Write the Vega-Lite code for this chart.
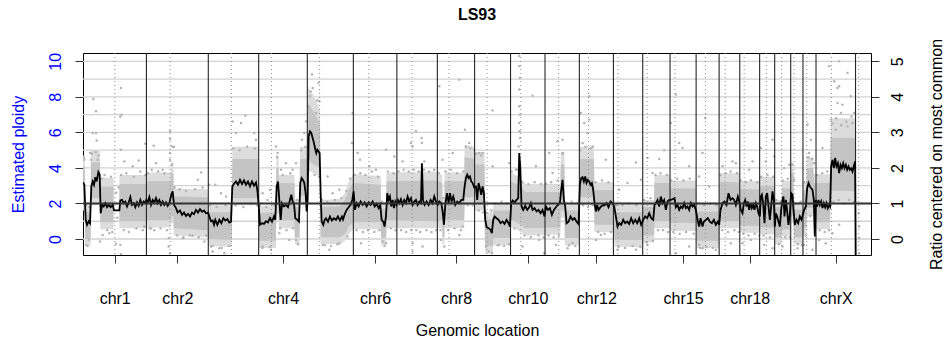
{
"$schema": "https://vega.github.io/schema/vega-lite/v6.json",
"width": 788,
"height": 202,
"autosize": "none",
"padding": {"left": 83, "top": 53, "right": 75, "bottom": 85},
"title": {"text": "LS93", "fontSize": 16, "fontWeight": "bold", "font": "Liberation Sans", "anchor": "middle", "offset": 15, "color": "#000"},
"config": {"font": "Liberation Sans", "view": {"stroke": "#000", "strokeWidth": 1}, "axis": {"labelFont": "Liberation Sans", "titleFont": "Liberation Sans"}},
"layer": [
{"layer": [
{"data": {"values": [{"p":0},{"p":1},{"p":2},{"p":3},{"p":4},{"p":5},{"p":6},{"p":7},{"p":8},{"p":9},{"p":10}]},
"mark": {"type": "rule", "color": "#d2d2d2", "strokeWidth": 1.3},
"encoding": {"y": {"field": "p", "type": "quantitative", "scale": {"domain": [-0.9, 10.47], "nice": false, "zero": false},
"axis": {"values": [0,1,2,3,4,5,6,7,8,9,10], "labelExpr": "datum.value % 2 === 0 ? datum.label : ''", "title": "Estimated ploidy", "grid": false, "domain": false, "tickSize": 8, "tickColor": "#333", "labelAngle": -90, "labelAlign": "center", "labelBaseline": "bottom", "labelPadding": 12, "labelFontSize": 16, "labelColor": "#0000ff", "labelOverlap": false, "labelFlush": false, "titleFontSize": 16, "titleFontWeight": "normal", "titleColor": "#0000ff", "titleAngle": -90, "titleX": -65, "titleY": 101, "titleAlign": "center", "titleBaseline": "middle"}}}},
{"data": {"name": "band", "values": [
{"s":1,"g":0,"lo":2.0,"hi":4.1,"lo2":1.6,"hi2":4.7},{"s":1,"g":7,"lo":2.0,"hi":4.1,"lo2":1.6,"hi2":4.7},{"s":1,"g":8,"lo":0.0,"hi":1.5,"lo2":-0.4,"hi2":1.9},{"s":1,"g":30,"lo":0.0,"hi":1.5,"lo2":-0.4,"hi2":1.9},{"s":1,"g":31,"lo":2.3,"hi":4.3,"lo2":1.9,"hi2":5.0},{"s":1,"g":67,"lo":2.3,"hi":4.3,"lo2":1.9,"hi2":5.0},{"s":1,"g":68,"lo":0.95,"hi":2.95,"lo2":0.55,"hi2":3.45},{"s":1,"g":120,"lo":0.95,"hi":2.95,"lo2":0.55,"hi2":3.45},
{"s":2,"g":143,"lo":1.0,"hi":3.1,"lo2":0.6,"hi2":3.6},{"s":2,"g":249,"lo":1.0,"hi":3.1,"lo2":0.6,"hi2":3.6},{"s":2,"g":250,"lo":1.05,"hi":3.25,"lo2":0.65,"hi2":3.75},{"s":2,"g":345,"lo":1.05,"hi":3.25,"lo2":0.65,"hi2":3.75},{"s":2,"g":346,"lo":1.3,"hi":3.7,"lo2":0.9,"hi2":4.3},{"s":2,"g":355,"lo":1.3,"hi":3.7,"lo2":0.9,"hi2":4.3},{"s":2,"g":357,"lo":0.6,"hi":2.4,"lo2":0.2,"hi2":2.85},{"s":2,"g":490,"lo":0.5,"hi":2.35,"lo2":0.1,"hi2":2.8},{"s":2,"g":493,"lo":0.0,"hi":1.5,"lo2":-0.4,"hi2":1.9},{"s":2,"g":585,"lo":-0.05,"hi":1.5,"lo2":-0.45,"hi2":1.9},{"s":2,"g":587,"lo":2.3,"hi":4.5,"lo2":1.9,"hi2":5.2},{"s":2,"g":688,"lo":2.3,"hi":4.5,"lo2":1.9,"hi2":5.2},{"s":2,"g":691,"lo":-0.1,"hi":1.45,"lo2":-0.5,"hi2":1.85},{"s":2,"g":758,"lo":-0.1,"hi":1.5,"lo2":-0.5,"hi2":1.9},{"s":2,"g":760,"lo":1.9,"hi":4.0,"lo2":1.4,"hi2":4.7},{"s":2,"g":768,"lo":1.9,"hi":4.0,"lo2":1.4,"hi2":4.7},{"s":2,"g":770,"lo":1.05,"hi":3.15,"lo2":0.6,"hi2":3.6},{"s":2,"g":831,"lo":1.05,"hi":3.15,"lo2":0.6,"hi2":3.6},{"s":2,"g":833,"lo":0.1,"hi":1.8,"lo2":-0.3,"hi2":2.2},{"s":2,"g":851,"lo":0.1,"hi":1.8,"lo2":-0.3,"hi2":2.2},{"s":2,"g":853,"lo":2.45,"hi":4.5,"lo2":2.0,"hi2":5.2},{"s":2,"g":881,"lo":2.45,"hi":4.5,"lo2":2.0,"hi2":5.2},{"s":2,"g":883,"lo":4.5,"hi":7.6,"lo2":3.9,"hi2":8.6},{"s":2,"g":905,"lo":4.2,"hi":7.2,"lo2":3.7,"hi2":8.1},{"s":2,"g":931,"lo":4.0,"hi":6.5,"lo2":3.5,"hi2":7.3},{"s":2,"g":934,"lo":0.1,"hi":1.8,"lo2":-0.3,"hi2":2.2},{"s":2,"g":1010,"lo":0.1,"hi":1.85,"lo2":-0.3,"hi2":2.25},{"s":2,"g":1030,"lo":0.3,"hi":2.2,"lo2":-0.1,"hi2":2.6},{"s":2,"g":1045,"lo":0.7,"hi":2.8,"lo2":0.3,"hi2":3.25},{"s":2,"g":1062,"lo":0.95,"hi":3.15,"lo2":0.55,"hi2":3.65},{"s":2,"g":1170,"lo":0.95,"hi":3.05,"lo2":0.55,"hi2":3.55},{"s":2,"g":1172,"lo":0.05,"hi":1.7,"lo2":-0.35,"hi2":2.1},{"s":2,"g":1191,"lo":0.05,"hi":1.7,"lo2":-0.35,"hi2":2.1},{"s":2,"g":1193,"lo":1.05,"hi":3.25,"lo2":0.6,"hi2":3.75},{"s":2,"g":1392,"lo":1.0,"hi":3.3,"lo2":0.6,"hi2":3.8},{"s":2,"g":1412,"lo":1.05,"hi":3.15,"lo2":0.6,"hi2":3.6},{"s":2,"g":1413,"lo":0.1,"hi":1.8,"lo2":-0.3,"hi2":2.2},{"s":2,"g":1420,"lo":0.1,"hi":1.8,"lo2":-0.3,"hi2":2.2},{"s":2,"g":1421,"lo":1.05,"hi":3.25,"lo2":0.6,"hi2":3.75},{"s":2,"g":1498,"lo":1.05,"hi":3.25,"lo2":0.6,"hi2":3.75},{"s":2,"g":1500,"lo":2.35,"hi":4.6,"lo2":1.9,"hi2":5.3},{"s":2,"g":1538,"lo":2.35,"hi":4.5,"lo2":1.9,"hi2":5.2},{"s":2,"g":1540,"lo":2.0,"hi":4.2,"lo2":1.6,"hi2":4.9},{"s":2,"g":1578,"lo":2.0,"hi":4.2,"lo2":1.6,"hi2":4.9},{"s":2,"g":1580,"lo":-0.4,"hi":1.1,"lo2":-0.8,"hi2":1.5},{"s":2,"g":1611,"lo":-0.4,"hi":1.1,"lo2":-0.8,"hi2":1.5},{"s":2,"g":1613,"lo":0.05,"hi":1.6,"lo2":-0.35,"hi2":2.0},{"s":2,"g":1679,"lo":0.05,"hi":1.6,"lo2":-0.35,"hi2":2.0},{"s":2,"g":1681,"lo":1.1,"hi":3.25,"lo2":0.7,"hi2":3.75},{"s":2,"g":1720,"lo":0.8,"hi":2.95,"lo2":0.4,"hi2":3.45},{"s":2,"g":1740,"lo":0.6,"hi":2.65,"lo2":0.2,"hi2":3.1},{"s":2,"g":1876,"lo":0.65,"hi":2.65,"lo2":0.25,"hi2":3.1},{"s":2,"g":1878,"lo":1.6,"hi":4.2,"lo2":1.2,"hi2":4.9},{"s":2,"g":1892,"lo":1.6,"hi":4.2,"lo2":1.2,"hi2":4.9},{"s":2,"g":1894,"lo":0.05,"hi":1.6,"lo2":-0.35,"hi2":2.0},{"s":2,"g":1950,"lo":0.05,"hi":1.6,"lo2":-0.35,"hi2":2.0},{"s":2,"g":1952,"lo":2.35,"hi":4.5,"lo2":1.9,"hi2":5.2},{"s":2,"g":2008,"lo":2.35,"hi":4.5,"lo2":1.9,"hi2":5.2},{"s":2,"g":2010,"lo":0.8,"hi":2.75,"lo2":0.4,"hi2":3.2},{"s":2,"g":2085,"lo":0.8,"hi":2.75,"lo2":0.4,"hi2":3.2},{"s":2,"g":2090,"lo":-0.05,"hi":1.5,"lo2":-0.45,"hi2":1.9},{"s":2,"g":2199,"lo":-0.05,"hi":1.5,"lo2":-0.45,"hi2":1.9},{"s":2,"g":2201,"lo":0.2,"hi":1.8,"lo2":-0.2,"hi2":2.2},{"s":2,"g":2244,"lo":0.2,"hi":1.8,"lo2":-0.2,"hi2":2.2},{"s":2,"g":2246,"lo":1.0,"hi":3.15,"lo2":0.6,"hi2":3.6},{"s":2,"g":2307,"lo":1.0,"hi":3.15,"lo2":0.6,"hi2":3.6},{"s":2,"g":2309,"lo":0.9,"hi":2.85,"lo2":0.45,"hi2":3.3},{"s":2,"g":2410,"lo":0.9,"hi":2.85,"lo2":0.45,"hi2":3.3},{"s":2,"g":2412,"lo":-0.1,"hi":1.55,"lo2":-0.5,"hi2":1.95},{"s":2,"g":2499,"lo":-0.1,"hi":1.55,"lo2":-0.5,"hi2":1.95},{"s":2,"g":2502,"lo":1.0,"hi":3.2,"lo2":0.6,"hi2":3.7},{"s":2,"g":2580,"lo":1.0,"hi":3.2,"lo2":0.6,"hi2":3.7},{"s":2,"g":2582,"lo":0.75,"hi":2.8,"lo2":0.35,"hi2":3.25},{"s":2,"g":2659,"lo":0.75,"hi":2.8,"lo2":0.35,"hi2":3.25},{"s":2,"g":2661,"lo":0.65,"hi":3.0,"lo2":0.25,"hi2":3.5},{"s":2,"g":2718,"lo":0.65,"hi":3.0,"lo2":0.25,"hi2":3.5},{"s":2,"g":2720,"lo":0.1,"hi":1.8,"lo2":-0.3,"hi2":2.2},{"s":2,"g":2745,"lo":0.1,"hi":1.8,"lo2":-0.3,"hi2":2.2},{"s":2,"g":2747,"lo":0.55,"hi":2.85,"lo2":0.15,"hi2":3.3},{"s":2,"g":2782,"lo":0.55,"hi":2.85,"lo2":0.15,"hi2":3.3},{"s":2,"g":2784,"lo":1.3,"hi":3.7,"lo2":0.9,"hi2":4.3},{"s":2,"g":2792,"lo":1.3,"hi":3.7,"lo2":0.9,"hi2":4.3},{"s":2,"g":2794,"lo":0.1,"hi":1.65,"lo2":-0.3,"hi2":2.05},{"s":2,"g":2830,"lo":0.1,"hi":1.65,"lo2":-0.3,"hi2":2.05},{"s":2,"g":2832,"lo":0.65,"hi":2.75,"lo2":0.25,"hi2":3.2},{"s":2,"g":2843,"lo":0.65,"hi":2.75,"lo2":0.25,"hi2":3.2},{"s":2,"g":2845,"lo":1.75,"hi":4.0,"lo2":1.3,"hi2":4.6},{"s":2,"g":2870,"lo":1.75,"hi":4.0,"lo2":1.3,"hi2":4.6},{"s":2,"g":2872,"lo":0.95,"hi":3.15,"lo2":0.55,"hi2":3.65},{"s":2,"g":2936,"lo":0.95,"hi":3.15,"lo2":0.55,"hi2":3.65},{"s":2,"g":2938,"lo":2.7,"hi":5.7,"lo2":2.1,"hi2":6.8},{"s":2,"g":3036,"lo":2.7,"hi":5.7,"lo2":2.1,"hi2":6.8}
]},
"mark": {"type": "area", "color": "#dcdcdc", "clip": true},
"encoding": {
"x": {"field": "g", "type": "quantitative", "scale": {"domain": [0, 3097], "nice": false, "zero": false},
"axis": {"values": [124.6, 370.85, 786, 1148.05, 1465.9, 1748.05, 2017.7, 2358.4, 2620.3, 2958.5], "labelExpr": "['chr1','chr2','chr4','chr6','chr8','chr10','chr12','chr15','chr18','chrX'][indexof([124.6,370.85,786,1148.05,1465.9,1748.05,2017.7,2358.4,2620.3,2958.5], datum.value)]", "title": "Genomic location", "grid": false, "domain": false, "tickSize": 8, "tickColor": "#333", "labelPadding": 27, "labelFontSize": 16, "labelColor": "#000", "labelFlush": false, "labelOverlap": false, "titleFontSize": 16, "titleFontWeight": "normal", "titleColor": "#000", "titleX": 394, "titleY": 75, "titleBaseline": "middle", "titleAlign": "center"}},
"y": {"field": "lo2", "type": "quantitative"},
"y2": {"field": "hi2"},
"detail": {"field": "s"}
}},
{"data": {"name": "band"},
"mark": {"type": "area", "color": "#c4c4c4", "clip": true},
"encoding": {
"x": {"field": "g", "type": "quantitative"},
"y": {"field": "lo", "type": "quantitative"},
"y2": {"field": "hi"},
"detail": {"field": "s"}
}},
{"data": {"values": [
{"g":149.4,"p":8.5},{"g":40.7,"p":7.88},{"g":51.2,"p":7.19},{"g":146.8,"p":6.9},{"g":152,"p":7.0},{"g":38.1,"p":5.97},{"g":51.2,"p":5.97},{"g":53.8,"p":5.55},{"g":245,"p":5.36},{"g":277.8,"p":5.25},{"g":349.8,"p":5.21},{"g":357.7,"p":5.18},{"g":342,"p":6.06},{"g":342,"p":5.63},{"g":342,"p":4.84},{"g":342,"p":4.46},{"g":149.4,"p":5.03},{"g":27.6,"p":4.84},{"g":31.5,"p":4.46},{"g":57.7,"p":4.46},{"g":5.3,"p":4.46},{"g":218.9,"p":4.42},{"g":287,"p":4.27},{"g":313,"p":3.9},{"g":464,"p":3.75},{"g":451,"p":3.33},{"g":496.5,"p":3.05},{"g":162.5,"p":4.37},{"g":195.3,"p":4.09},{"g":336.7,"p":0.05},{"g":336.7,"p":-0.42},{"g":342,"p":-0.8},{"g":146.8,"p":-0.33},{"g":149.4,"p":-0.85},{"g":11.9,"p":-0.33},{"g":22.4,"p":-0.05},{"g":66.9,"p":-0.14},{"g":77.4,"p":0.23},{"g":103.6,"p":0.33},{"g":129.8,"p":-0.27},{"g":241.1,"p":0.7},{"g":267.3,"p":0.61},{"g":391.7,"p":0.05},{"g":431,"p":0.18},{"g":477,"p":-0.14},{"g":503,"p":-0.42},{"g":509.6,"p":-0.7},
{"g":900,"p":9.26},{"g":926,"p":8.79},{"g":902.6,"p":8.5},{"g":892,"p":8.03},{"g":929,"p":7.75},{"g":886.9,"p":7.47},{"g":915.7,"p":7.09},{"g":876.4,"p":6.62},{"g":869.8,"p":5.97},{"g":860.6,"p":5.59},{"g":758.5,"p":5.21},{"g":765,"p":4.84},{"g":778,"p":3.9},{"g":797.8,"p":4.27},{"g":824,"p":3.9},{"g":837,"p":4.27},{"g":588.2,"p":6.62},{"g":621,"p":6.53},{"g":638,"p":6.94},{"g":601.3,"p":5.97},{"g":673.3,"p":5.97},{"g":679.9,"p":5.59},{"g":520,"p":3.05},{"g":542.3,"p":2.58},{"g":562,"p":2.39},{"g":706,"p":2.58},{"g":725.7,"p":2.2},{"g":734.9,"p":2.77},{"g":961.5,"p":3.52},{"g":1007.3,"p":2.77},{"g":981,"p":2.58},{"g":555.4,"p":-0.8},{"g":535.8,"p":-0.52},{"g":706,"p":-0.42},{"g":738.8,"p":-0.61},{"g":941.9,"p":-0.33},{"g":968,"p":-0.61},{"g":1007.3,"p":-0.24},{"g":771.6,"p":0.33},{"g":810.9,"p":-0.05},{"g":837,"p":-0.05},
{"g":1400.3,"p":8.6},{"g":1478.9,"p":8.97},{"g":1059.7,"p":7.09},{"g":1057.1,"p":5.4},{"g":1308.6,"p":6.06},{"g":1330.8,"p":5.68},{"g":1332.1,"p":5.4},{"g":1289,"p":5.4},{"g":1295.5,"p":5.21},{"g":1190.7,"p":5.03},{"g":1079.4,"p":4.84},{"g":1088.5,"p":4.46},{"g":1223.4,"p":4.65},{"g":1256.2,"p":4.37},{"g":1341.3,"p":4.37},{"g":1413.4,"p":4.46},{"g":1452.7,"p":4.84},{"g":1501,"p":6.15},{"g":1518,"p":5.4},{"g":1151.4,"p":3.9},{"g":1125.2,"p":4.09},{"g":1092.4,"p":-0.24},{"g":1177.6,"p":-0.14},{"g":1190.7,"p":-0.24},{"g":1295.5,"p":-0.24},{"g":1295.5,"p":-0.7},{"g":1334.7,"p":-0.42},{"g":1406.9,"p":-0.05},{"g":1419.9,"p":-0.42},{"g":1478.9,"p":0.23},{"g":1492,"p":0.7},{"g":1040,"p":0.14},
{"g":1714.5,"p":10.3},{"g":1714.5,"p":9.73},{"g":1717,"p":9.07},{"g":1714.5,"p":8.41},{"g":1714.5,"p":7.47},{"g":1717,"p":7.0},{"g":1714.5,"p":6.53},{"g":1718,"p":5.68},{"g":1716,"p":6.06},{"g":1712,"p":5.21},{"g":1766.9,"p":8.07},{"g":1609.7,"p":7.24},{"g":1956.8,"p":7.09},{"g":1989.6,"p":8.03},{"g":1989.6,"p":6.72},{"g":1969.9,"p":6.53},{"g":1983,"p":5.97},{"g":1884.8,"p":5.59},{"g":1865.1,"p":5.5},{"g":1884.8,"p":4.84},{"g":1963.4,"p":5.4},{"g":2002.7,"p":5.21},{"g":1557.3,"p":4.84},{"g":1570.4,"p":4.84},{"g":1537.6,"p":5.03},{"g":1609.7,"p":4.09},{"g":1701.4,"p":3.9},{"g":1780,"p":4.09},{"g":1832.4,"p":4.84},{"g":1845.5,"p":3.71},{"g":1675.2,"p":4.27},{"g":1583.5,"p":-0.42},{"g":1607,"p":-0.8},{"g":1635.9,"p":-0.33},{"g":1727.6,"p":-0.42},{"g":1793,"p":-0.05},{"g":1812.7,"p":-0.8},{"g":1858.6,"p":-0.33},{"g":1904.4,"p":-0.52},{"g":1924,"p":-0.24},{"g":2015.7,"p":-0.05},{"g":2035.4,"p":0.23},
{"g":2330,"p":8.13},{"g":2310.4,"p":6.53},{"g":2284.2,"p":4.99},{"g":2343.2,"p":5.4},{"g":2356.3,"p":5.12},{"g":2445.3,"p":6.81},{"g":2434.8,"p":4.84},{"g":2552.7,"p":4.37},{"g":2055,"p":4.46},{"g":2172.9,"p":4.31},{"g":2218.8,"p":4.56},{"g":2238.5,"p":3.71},{"g":2264.7,"p":4.5},{"g":2382.5,"p":4.09},{"g":2513.4,"p":4.09},{"g":2192.5,"p":3.33},{"g":2107.4,"p":2.77},{"g":2140.1,"p":3.15},{"g":2421.8,"p":3.52},{"g":2461.2,"p":2.96},{"g":2100.8,"p":-0.61},{"g":2172.9,"p":-0.61},{"g":2218.8,"p":-0.33},{"g":2330,"p":-0.8},{"g":2382.5,"p":-0.42},{"g":2421.8,"p":-0.33},{"g":2434.8,"p":-0.52},{"g":2487.2,"p":-0.61},{"g":2546.1,"p":-0.24},
{"g":2932.6,"p":9.73},{"g":2971.9,"p":10.0},{"g":3004.6,"p":9.35},{"g":2952.2,"p":8.88},{"g":2965.3,"p":8.5},{"g":2971.9,"p":8.6},{"g":3017.7,"p":8.03},{"g":2965.3,"p":7.66},{"g":2984.9,"p":7.56},{"g":2939.1,"p":6.72},{"g":2978.4,"p":7.09},{"g":3030.8,"p":7.09},{"g":3024.2,"p":6.53},{"g":2958.7,"p":6.15},{"g":3004.6,"p":6.34},{"g":2847.4,"p":6.44},{"g":2860.5,"p":5.59},{"g":2853.9,"p":4.84},{"g":2873.6,"p":4.27},{"g":2906.3,"p":5.12},{"g":2709.9,"p":5.59},{"g":2664,"p":5.12},{"g":2716.4,"p":4.65},{"g":2683.7,"p":4.37},{"g":2755.7,"p":3.99},{"g":2775.4,"p":4.18},{"g":2795,"p":3.33},{"g":2618.2,"p":3.9},{"g":2565.8,"p":4.27},{"g":2631.3,"p":4.37},{"g":2971.9,"p":0.8},{"g":2945.7,"p":0.33},{"g":2893.2,"p":-0.05},{"g":2919.4,"p":-0.24},{"g":2834.3,"p":-0.33},{"g":2867.1,"p":-0.61},{"g":2808.1,"p":-0.52},{"g":2749.2,"p":-0.42},{"g":2709.9,"p":-0.52},{"g":2677.1,"p":-0.33},{"g":2624.7,"p":-0.05},{"g":2592,"p":-0.24},{"g":3050.5,"p":0.7},{"g":3050.5,"p":0.05},{"g":3050.5,"p":-0.8},{"g":3049,"p":1.45},
{"g":3,"p":4.6},{"g":12,"p":1.9},{"g":18,"p":-0.4},{"g":25,"p":1.8},{"g":35,"p":4.8},{"g":50,"p":4.9},{"g":60,"p":4.7},{"g":75,"p":3.4},{"g":85,"p":3.6},{"g":95,"p":0.5},{"g":110,"p":3.5},{"g":115,"p":0.4},{"g":130,"p":2.6},{"g":135,"p":1.2},{"g":140,"p":2.9},{"g":150,"p":3.6},{"g":160,"p":0.5},{"g":170,"p":3.7},{"g":180,"p":0.4},{"g":200,"p":3.5},{"g":210,"p":0.6},{"g":225,"p":3.8},{"g":235,"p":0.5},{"g":245,"p":3.6},
{"g":255,"p":3.7},{"g":262,"p":0.6},{"g":270,"p":3.9},{"g":280,"p":0.5},{"g":295,"p":3.8},{"g":305,"p":0.6},{"g":320,"p":3.7},{"g":330,"p":0.5},{"g":350,"p":4.2},{"g":360,"p":2.9},{"g":370,"p":0.2},{"g":380,"p":2.8},{"g":395,"p":0.1},{"g":405,"p":2.7},{"g":420,"p":0.2},{"g":440,"p":2.8},{"g":455,"p":0.1},{"g":470,"p":2.9},{"g":485,"p":0.2},
{"g":500,"p":1.9},{"g":510,"p":-0.4},{"g":525,"p":1.8},{"g":545,"p":-0.5},{"g":560,"p":1.9},{"g":575,"p":-0.4},{"g":590,"p":5.1},{"g":600,"p":1.9},{"g":615,"p":5.0},{"g":630,"p":1.8},{"g":645,"p":5.2},{"g":660,"p":2.0},{"g":675,"p":5.1},{"g":685,"p":1.9},
{"g":695,"p":1.9},{"g":705,"p":-0.5},{"g":720,"p":1.8},{"g":735,"p":-0.45},{"g":750,"p":1.9},{"g":763,"p":4.6},{"g":775,"p":0.6},{"g":785,"p":3.6},{"g":800,"p":0.5},{"g":815,"p":3.7},{"g":825,"p":0.6},{"g":840,"p":2.2},{"g":845,"p":-0.3},{"g":858,"p":5.0},{"g":866,"p":2.0},{"g":874,"p":5.2},
{"g":887,"p":3.9},{"g":895,"p":8.3},{"g":910,"p":3.6},{"g":920,"p":7.8},{"g":928,"p":3.5},{"g":940,"p":2.2},{"g":950,"p":-0.35},{"g":960,"p":2.1},{"g":975,"p":-0.4},{"g":990,"p":2.2},{"g":1000,"p":-0.3},{"g":1015,"p":2.3},{"g":1035,"p":2.7},{"g":1050,"p":3.4},
{"g":1068,"p":3.6},{"g":1075,"p":0.5},{"g":1090,"p":3.7},{"g":1100,"p":0.4},{"g":1110,"p":3.6},{"g":1120,"p":0.5},{"g":1135,"p":3.8},{"g":1145,"p":0.4},{"g":1160,"p":3.5},{"g":1165,"p":0.5},{"g":1175,"p":2.1},{"g":1185,"p":-0.4},{"g":1198,"p":3.8},{"g":1210,"p":0.6},{"g":1220,"p":3.7},{"g":1228,"p":0.5},
{"g":1240,"p":3.8},{"g":1250,"p":0.5},{"g":1260,"p":3.9},{"g":1270,"p":0.4},{"g":1280,"p":3.8},{"g":1290,"p":0.5},{"g":1300,"p":3.9},{"g":1310,"p":0.5},{"g":1320,"p":3.8},{"g":1325,"p":0.4},{"g":1340,"p":3.9},{"g":1350,"p":0.5},{"g":1360,"p":3.8},{"g":1370,"p":0.4},{"g":1380,"p":3.9},{"g":1388,"p":0.5},
{"g":1398,"p":3.7},{"g":1405,"p":0.5},{"g":1416,"p":2.3},{"g":1425,"p":3.8},{"g":1435,"p":0.5},{"g":1445,"p":3.9},{"g":1460,"p":0.6},{"g":1470,"p":3.7},{"g":1485,"p":0.5},{"g":1495,"p":3.8},{"g":1505,"p":5.2},{"g":1512,"p":1.9},{"g":1522,"p":5.1},{"g":1532,"p":1.9},
{"g":1545,"p":4.8},{"g":1555,"p":1.6},{"g":1565,"p":4.7},{"g":1572,"p":1.5},{"g":1585,"p":1.5},{"g":1595,"p":-0.7},{"g":1605,"p":1.6},{"g":1620,"p":2.0},{"g":1630,"p":-0.35},{"g":1645,"p":2.1},{"g":1655,"p":-0.4},{"g":1665,"p":2.0},{"g":1675,"p":-0.3},
{"g":1685,"p":3.8},{"g":1695,"p":0.6},{"g":1705,"p":3.9},{"g":1725,"p":3.2},{"g":1735,"p":0.2},{"g":1750,"p":3.1},{"g":1760,"p":0.1},{"g":1775,"p":3.2},{"g":1790,"p":0.2},{"g":1800,"p":3.1},{"g":1810,"p":0.1},
{"g":1820,"p":3.1},{"g":1830,"p":0.2},{"g":1840,"p":3.2},{"g":1850,"p":0.1},{"g":1865,"p":3.3},{"g":1870,"p":0.2},{"g":1885,"p":4.8},{"g":1898,"p":2.0},{"g":1910,"p":-0.35},{"g":1920,"p":2.1},{"g":1935,"p":-0.4},{"g":1945,"p":2.0},
{"g":1955,"p":5.0},{"g":1965,"p":1.9},{"g":1975,"p":5.2},{"g":1985,"p":1.8},{"g":1995,"p":5.1},{"g":2003,"p":1.9},{"g":2015,"p":3.2},{"g":2025,"p":0.4},{"g":2040,"p":3.3},{"g":2050,"p":0.3},{"g":2065,"p":3.2},{"g":2075,"p":0.4},
{"g":2095,"p":1.9},{"g":2105,"p":-0.45},{"g":2120,"p":1.9},{"g":2130,"p":-0.5},{"g":2145,"p":2.0},{"g":2160,"p":-0.4},{"g":2175,"p":1.9},{"g":2190,"p":-0.45},
{"g":2205,"p":2.2},{"g":2215,"p":-0.2},{"g":2230,"p":2.3},{"g":2240,"p":-0.1},{"g":2250,"p":3.6},{"g":2260,"p":0.5},{"g":2270,"p":3.7},{"g":2280,"p":0.5},{"g":2295,"p":3.6},{"g":2300,"p":0.4},
{"g":2312,"p":3.3},{"g":2320,"p":0.4},{"g":2335,"p":3.4},{"g":2345,"p":0.3},{"g":2360,"p":3.3},{"g":2370,"p":0.4},{"g":2385,"p":3.4},{"g":2400,"p":0.3},
{"g":2415,"p":2.0},{"g":2425,"p":-0.5},{"g":2440,"p":1.9},{"g":2450,"p":-0.45},{"g":2465,"p":2.0},{"g":2475,"p":-0.5},{"g":2490,"p":1.9},
{"g":2505,"p":3.6},{"g":2512,"p":0.5},{"g":2525,"p":3.7},{"g":2535,"p":0.4},{"g":2545,"p":3.8},{"g":2560,"p":0.5},{"g":2570,"p":3.7},{"g":2577,"p":0.4},
{"g":2585,"p":3.3},{"g":2595,"p":0.3},{"g":2605,"p":3.2},{"g":2615,"p":0.2},{"g":2625,"p":3.3},{"g":2640,"p":0.3},{"g":2650,"p":3.2},{"g":2657,"p":0.2},
{"g":2665,"p":3.5},{"g":2675,"p":0.2},{"g":2690,"p":3.6},{"g":2700,"p":0.1},{"g":2712,"p":3.5},
{"g":2725,"p":2.2},{"g":2735,"p":-0.3},{"g":2742,"p":2.1},{"g":2750,"p":3.3},{"g":2760,"p":0.1},{"g":2770,"p":3.4},{"g":2778,"p":0.1},
{"g":2787,"p":4.2},{"g":2800,"p":2.0},{"g":2810,"p":-0.3},{"g":2820,"p":2.1},{"g":2826,"p":-0.35},
{"g":2835,"p":3.2},{"g":2840,"p":0.2},{"g":2850,"p":4.6},{"g":2858,"p":1.3},{"g":2866,"p":4.5},
{"g":2885,"p":3.6},{"g":2895,"p":0.5},{"g":2905,"p":3.7},{"g":2915,"p":0.4},{"g":2925,"p":3.8},{"g":2932,"p":0.5},{"g":2945,"p":6.5},{"g":2950,"p":2.1},{"g":2960,"p":6.8},{"g":2970,"p":2.2},{"g":2980,"p":6.4},{"g":2990,"p":2.0},{"g":3000,"p":6.6},{"g":3010,"p":2.2},{"g":3020,"p":6.9},{"g":3030,"p":2.1}
]},
"mark": {"type": "circle", "size": 6, "color": "#b2b2b2", "opacity": 1, "clip": true},
"encoding": {"x": {"field": "g", "type": "quantitative"}, "y": {"field": "p", "type": "quantitative"}}},
{"data": {"values": [{"g":249.25},{"g":492.45},{"g":690.45},{"g":881.6},{"g":1062.5},{"g":1233.6},{"g":1392.7},{"g":1539.05},{"g":1680.3},{"g":1815.8},{"g":1950.8},{"g":2084.65},{"g":2199.8},{"g":2307.15},{"g":2409.7},{"g":2500.05},{"g":2581.25},{"g":2659.3},{"g":2718.45},{"g":2781.45},{"g":2829.6},{"g":2880.9},{"g":3036.15}]},
"mark": {"type": "rule", "color": "#262626", "strokeWidth": 1.1},
"encoding": {"x": {"field": "g", "type": "quantitative"}}},
{"data": {"values": [{"g":125},{"g":342.55},{"g":583.45},{"g":740.85},{"g":930},{"g":1123.5},{"g":1293.5},{"g":1438.3},{"g":1588.05},{"g":1720.5},{"g":1869.5},{"g":1986.6},{"g":2102.55},{"g":2217.4},{"g":2326.15},{"g":2446.3},{"g":2524.05},{"g":2598.45},{"g":2685.8},{"g":2745.95},{"g":2794.65},{"g":2844.3},{"g":2941.5},{"g":3048.65}]},
"mark": {"type": "rule", "color": "#8c8c8c", "strokeWidth": 1, "strokeDash": [1, 3]},
"encoding": {"x": {"field": "g", "type": "quantitative"}}},
{"data": {"values": [
{"g":0.5,"p":3.18},{"g":5.3,"p":3.05},{"g":10.6,"p":1.08},{"g":15.8,"p":0.8},{"g":22.4,"p":1.0},{"g":27.6,"p":0.89},{"g":32.8,"p":2.96},{"g":38.1,"p":3.24},{"g":43.3,"p":3.05},{"g":48.6,"p":3.48},{"g":53.8,"p":3.24},{"g":60.4,"p":3.77},{"g":65.6,"p":3.62},{"g":69.5,"p":1.45},{"g":74.8,"p":1.92},{"g":81.3,"p":1.83},{"g":87.9,"p":2.02},{"g":94.4,"p":1.79},{"g":101,"p":1.92},{"g":108.8,"p":1.79},{"g":116.7,"p":1.92},{"g":121.9,"p":1.61},{"g":142.9,"p":1.61},{"g":146.8,"p":2.17},{"g":153.3,"p":2.2},{"g":159.9,"p":2.02},{"g":166.4,"p":2.11},{"g":173,"p":1.83},{"g":179.5,"p":2.06},{"g":186.1,"p":2.36},{"g":192.6,"p":1.92},{"g":199.2,"p":2.02},{"g":205.7,"p":1.79},{"g":212.3,"p":2.06},{"g":218.8,"p":1.87},{"g":225.4,"p":2.2},{"g":231.9,"p":1.92},{"g":238.5,"p":2.11},{"g":245,"p":2.02},{"g":249,"p":2.2},
{"g":254.2,"p":2.06},{"g":260.7,"p":2.36},{"g":267.3,"p":1.92},{"g":273.8,"p":2.2},{"g":280.4,"p":2.06},{"g":286.9,"p":2.3},{"g":293.5,"p":2.02},{"g":300,"p":2.2},{"g":306.6,"p":1.92},{"g":313.1,"p":2.11},{"g":319.7,"p":1.92},{"g":326.2,"p":2.06},{"g":332.8,"p":1.87},{"g":339.3,"p":2.02},{"g":347.2,"p":2.49},{"g":352.4,"p":2.68},{"g":357.7,"p":1.92},{"g":365.5,"p":1.74},{"g":372.1,"p":1.49},{"g":381.2,"p":1.61},{"g":389.1,"p":1.36},{"g":397,"p":1.49},{"g":404.8,"p":1.3},{"g":412.7,"p":1.42},{"g":420.5,"p":1.27},{"g":428.4,"p":1.49},{"g":436.2,"p":1.4},{"g":444.1,"p":1.64},{"g":452,"p":1.49},{"g":459.8,"p":1.68},{"g":467.7,"p":1.53},{"g":475.5,"p":1.61},{"g":483.4,"p":1.45},{"g":491.2,"p":1.49},
{"g":496.5,"p":1.27},{"g":503,"p":1.0},{"g":509.6,"p":1.04},{"g":515,"p":0.8},{"g":520,"p":1.08},{"g":528,"p":0.8},{"g":535.8,"p":1.08},{"g":543.7,"p":0.89},{"g":551.5,"p":1.17},{"g":559.4,"p":1.04},{"g":567.2,"p":1.12},{"g":575.1,"p":0.93},{"g":581.6,"p":0.98},{"g":586.9,"p":2.96},{"g":593.4,"p":3.11},{"g":601.3,"p":3.24},{"g":609.1,"p":3.05},{"g":617,"p":3.33},{"g":624.9,"p":3.09},{"g":632.7,"p":3.3},{"g":640.6,"p":3.05},{"g":648.4,"p":3.24},{"g":656.3,"p":2.96},{"g":664.2,"p":3.24},{"g":672,"p":3.0},{"g":679.9,"p":3.18},{"g":685.1,"p":2.77},
{"g":690.3,"p":1.92},{"g":695.6,"p":0.8},{"g":703.4,"p":0.89},{"g":711.3,"p":0.85},{"g":719.2,"p":1.0},{"g":727,"p":0.93},{"g":734.9,"p":1.17},{"g":742.7,"p":0.98},{"g":750.6,"p":1.27},{"g":755.8,"p":1.08},{"g":761.1,"p":2.96},{"g":766.3,"p":3.24},{"g":771.5,"p":2.2},{"g":776.8,"p":1.08},{"g":782,"p":2.02},{"g":789.9,"p":1.83},{"g":797.7,"p":1.92},{"g":805.6,"p":1.79},{"g":813.5,"p":2.2},{"g":818.7,"p":2.49},{"g":823.9,"p":2.11},{"g":829.2,"p":2.02},{"g":834.4,"p":1.17},{"g":842.3,"p":1.08},{"g":848.8,"p":0.98},{"g":854,"p":3.15},{"g":859.3,"p":3.43},{"g":864.5,"p":3.33},{"g":869.8,"p":3.15},{"g":875,"p":2.58},{"g":879,"p":1.55},
{"g":882.9,"p":2.2},{"g":886.8,"p":5.78},{"g":892,"p":6.06},{"g":897.3,"p":5.97},{"g":902.5,"p":5.68},{"g":907.8,"p":5.4},{"g":913,"p":5.03},{"g":916.9,"p":4.84},{"g":920.9,"p":5.03},{"g":926.1,"p":4.93},{"g":930,"p":4.84},{"g":934,"p":2.58},{"g":937.9,"p":0.98},{"g":944.4,"p":0.8},{"g":949.7,"p":1.08},{"g":954.9,"p":1.17},{"g":962.8,"p":0.98},{"g":970.6,"p":1.27},{"g":978.5,"p":1.04},{"g":986.3,"p":1.17},{"g":994.2,"p":1.08},{"g":1002,"p":1.27},{"g":1009.9,"p":1.04},{"g":1017.8,"p":1.27},{"g":1022,"p":1.1},{"g":1030,"p":1.45},{"g":1036.1,"p":1.64},{"g":1044,"p":1.79},{"g":1051.8,"p":1.92},{"g":1058.4,"p":2.2},
{"g":1063.6,"p":2.68},{"g":1068.9,"p":1.64},{"g":1075.4,"p":2.02},{"g":1083.3,"p":1.83},{"g":1091.1,"p":2.11},{"g":1099,"p":1.92},{"g":1106.8,"p":2.06},{"g":1114.7,"p":1.83},{"g":1122.6,"p":2.06},{"g":1130.4,"p":1.92},{"g":1138.3,"p":2.11},{"g":1146.1,"p":1.83},{"g":1154,"p":1.98},{"g":1161.9,"p":1.74},{"g":1168.4,"p":1.92},{"g":1173.6,"p":1.08},{"g":1180.2,"p":0.98},{"g":1185.4,"p":0.7},{"g":1190.7,"p":1.27},{"g":1195.9,"p":2.58},{"g":1201.1,"p":2.2},{"g":1206.4,"p":2.39},{"g":1211.6,"p":1.83},{"g":1216.9,"p":2.2},{"g":1222.1,"p":1.74},{"g":1227.3,"p":2.11},{"g":1232.6,"p":1.92},
{"g":1237.8,"p":2.2},{"g":1243.1,"p":2.02},{"g":1249.6,"p":2.24},{"g":1256.2,"p":1.92},{"g":1262.7,"p":2.2},{"g":1269.3,"p":2.02},{"g":1275.8,"p":2.39},{"g":1282.3,"p":2.11},{"g":1288.9,"p":2.3},{"g":1295.4,"p":1.92},{"g":1302,"p":2.11},{"g":1308.5,"p":2.2},{"g":1315.1,"p":1.92},{"g":1321.6,"p":2.11},{"g":1328.2,"p":2.02},{"g":1332.1,"p":4.27},{"g":1336.1,"p":2.2},{"g":1342.6,"p":1.92},{"g":1350.4,"p":2.11},{"g":1358.3,"p":1.92},{"g":1366.2,"p":2.2},{"g":1374,"p":2.02},{"g":1380.6,"p":2.39},{"g":1387.1,"p":2.11},
{"g":1393.7,"p":1.92},{"g":1400.2,"p":2.11},{"g":1408.1,"p":2.02},{"g":1413.3,"p":1.55},{"g":1418.6,"p":0.8},{"g":1423.8,"p":1.92},{"g":1430.4,"p":2.58},{"g":1436.9,"p":2.02},{"g":1442.2,"p":2.58},{"g":1448.7,"p":2.11},{"g":1455.3,"p":2.39},{"g":1463.1,"p":1.92},{"g":1471,"p":2.11},{"g":1478.8,"p":2.02},{"g":1486.7,"p":2.2},{"g":1494.5,"p":2.2},{"g":1499.8,"p":2.96},{"g":1505,"p":3.43},{"g":1510.2,"p":3.62},{"g":1515.5,"p":3.43},{"g":1520.7,"p":3.52},{"g":1526,"p":3.24},{"g":1531.2,"p":3.15},{"g":1537.6,"p":2.9},
{"g":1544.2,"p":2.96},{"g":1549.4,"p":2.2},{"g":1554.7,"p":3.15},{"g":1559.9,"p":2.86},{"g":1565.2,"p":2.49},{"g":1570.4,"p":2.96},{"g":1575.6,"p":2.58},{"g":1580.9,"p":1.08},{"g":1586.1,"p":0.67},{"g":1594,"p":0.61},{"g":1601.8,"p":0.52},{"g":1607,"p":0.33},{"g":1612.3,"p":1.08},{"g":1617.5,"p":1.27},{"g":1625.4,"p":1.17},{"g":1633.3,"p":1.08},{"g":1641.1,"p":0.89},{"g":1649,"p":0.98},{"g":1656.8,"p":0.85},{"g":1664.7,"p":1.08},{"g":1672.5,"p":0.89},{"g":1677.8,"p":0.7},
{"g":1683,"p":2.02},{"g":1688.3,"p":2.17},{"g":1696.1,"p":2.06},{"g":1704,"p":2.2},{"g":1710.5,"p":2.3},{"g":1714.5,"p":4.84},{"g":1718.4,"p":4.09},{"g":1723.6,"p":1.83},{"g":1730.2,"p":1.64},{"g":1738,"p":1.87},{"g":1745.9,"p":1.64},{"g":1753.8,"p":1.79},{"g":1760.3,"p":2.02},{"g":1766.8,"p":1.64},{"g":1774.7,"p":1.74},{"g":1782.6,"p":1.55},{"g":1790.4,"p":1.64},{"g":1798.3,"p":1.45},{"g":1806.1,"p":1.64},{"g":1814,"p":1.27},
{"g":1819.2,"p":1.83},{"g":1827.1,"p":1.64},{"g":1834.9,"p":1.74},{"g":1842.8,"p":1.36},{"g":1850.7,"p":1.64},{"g":1858.5,"p":1.79},{"g":1866.4,"p":1.92},{"g":1874.2,"p":2.02},{"g":1879.5,"p":2.77},{"g":1884.7,"p":3.33},{"g":1890,"p":2.2},{"g":1895.2,"p":1.83},{"g":1900.4,"p":0.89},{"g":1908.3,"p":0.98},{"g":1916.2,"p":1.27},{"g":1924,"p":1.08},{"g":1931.9,"p":1.17},{"g":1939.7,"p":0.98},{"g":1947.6,"p":0.85},
{"g":1952.8,"p":3.05},{"g":1958.1,"p":3.43},{"g":1963.3,"p":3.48},{"g":1968.6,"p":3.24},{"g":1973.8,"p":3.52},{"g":1979,"p":3.15},{"g":1984.3,"p":3.33},{"g":1989.5,"p":3.24},{"g":1994.7,"p":3.05},{"g":2000,"p":3.15},{"g":2005.2,"p":2.77},{"g":2010.5,"p":2.02},{"g":2015.7,"p":1.55},{"g":2021,"p":1.92},{"g":2026.2,"p":1.64},{"g":2034,"p":1.79},{"g":2041.9,"p":1.9},{"g":2049.8,"p":1.9},{"g":2057.6,"p":2.02},{"g":2065.5,"p":1.79},{"g":2073.3,"p":2.11},{"g":2081.2,"p":2.02},
{"g":2087.7,"p":1.83},{"g":2094.3,"p":1.27},{"g":2100.8,"p":0.7},{"g":2107.4,"p":0.89},{"g":2115.2,"p":0.8},{"g":2123.1,"p":1.08},{"g":2131,"p":0.89},{"g":2138.8,"p":0.98},{"g":2146.7,"p":0.85},{"g":2154.5,"p":1.17},{"g":2162.4,"p":0.89},{"g":2170.2,"p":1.08},{"g":2178.1,"p":0.89},{"g":2186,"p":1.17},{"g":2193.8,"p":0.8},
{"g":2201.7,"p":1.08},{"g":2209.5,"p":1.27},{"g":2217.4,"p":1.17},{"g":2225.3,"p":1.45},{"g":2233.1,"p":1.17},{"g":2241,"p":1.08},{"g":2246.2,"p":1.92},{"g":2251.5,"p":2.02},{"g":2258,"p":2.2},{"g":2264.5,"p":1.83},{"g":2271.1,"p":2.39},{"g":2277.6,"p":2.02},{"g":2284.2,"p":2.2},{"g":2290.7,"p":1.64},{"g":2297.3,"p":2.11},{"g":2303.8,"p":2.2},
{"g":2310.4,"p":2.2},{"g":2316.9,"p":2.24},{"g":2324.8,"p":2.3},{"g":2330,"p":1.79},{"g":2336.6,"p":1.92},{"g":2343.1,"p":1.64},{"g":2349.7,"p":1.83},{"g":2356.2,"p":1.74},{"g":2362.8,"p":2.02},{"g":2369.3,"p":1.74},{"g":2375.9,"p":1.83},{"g":2382.4,"p":1.64},{"g":2389,"p":2.02},{"g":2395.5,"p":1.83},{"g":2402.1,"p":1.92},{"g":2408.6,"p":1.64},
{"g":2415.2,"p":1.08},{"g":2421.7,"p":0.7},{"g":2427,"p":1.17},{"g":2434.8,"p":0.7},{"g":2440.1,"p":0.98},{"g":2447.9,"p":1.08},{"g":2455.8,"p":1.17},{"g":2463.6,"p":0.98},{"g":2471.5,"p":0.89},{"g":2479.4,"p":1.08},{"g":2487.2,"p":0.8},{"g":2495.1,"p":0.98},{"g":2500.3,"p":0.8},
{"g":2505.5,"p":1.64},{"g":2513.4,"p":2.02},{"g":2521.3,"p":2.11},{"g":2529.1,"p":1.92},{"g":2537,"p":2.58},{"g":2544.8,"p":2.2},{"g":2552.7,"p":2.3},{"g":2559.2,"p":2.2},{"g":2565.8,"p":1.92},{"g":2573.7,"p":2.39},{"g":2580.2,"p":2.06},
{"g":2585.4,"p":1.64},{"g":2592,"p":1.45},{"g":2597.2,"p":2.02},{"g":2602.5,"p":2.2},{"g":2607.7,"p":1.83},{"g":2613,"p":2.11},{"g":2618.2,"p":1.64},{"g":2623.4,"p":2.02},{"g":2628.7,"p":1.74},{"g":2633.9,"p":1.92},{"g":2639.1,"p":1.64},{"g":2644.4,"p":2.02},{"g":2649.6,"p":1.83},{"g":2654.9,"p":1.45},
{"g":2660.1,"p":1.27},{"g":2664,"p":2.39},{"g":2668,"p":2.49},{"g":2673.2,"p":2.02},{"g":2678.4,"p":0.89},{"g":2683.7,"p":2.39},{"g":2688.9,"p":2.58},{"g":2694.2,"p":1.83},{"g":2699.4,"p":1.08},{"g":2704.6,"p":1.83},{"g":2709.9,"p":2.68},{"g":2715.1,"p":2.2},
{"g":2719,"p":0.7},{"g":2723,"p":1.45},{"g":2728.2,"p":1.27},{"g":2733.4,"p":0.98},{"g":2738.7,"p":0.7},{"g":2743.9,"p":1.64},{"g":2749.2,"p":2.2},{"g":2753.1,"p":2.39},{"g":2757,"p":1.27},{"g":2762.3,"p":2.2},{"g":2767.5,"p":1.55},{"g":2772.7,"p":0.8},{"g":2778,"p":1.36},
{"g":2783.2,"p":2.58},{"g":2788.5,"p":2.49},{"g":2792.4,"p":1.64},{"g":2797.6,"p":0.8},{"g":2804.2,"p":1.08},{"g":2810.7,"p":0.89},{"g":2817.3,"p":1.27},{"g":2823.8,"p":1.08},{"g":2829.1,"p":1.36},
{"g":2834.3,"p":1.64},{"g":2840.9,"p":1.83},{"g":2846.1,"p":2.86},{"g":2851.4,"p":3.15},{"g":2856.6,"p":2.96},{"g":2861.9,"p":2.86},{"g":2867.1,"p":2.77},{"g":2872.3,"p":2.2},{"g":2876.2,"p":0.14},{"g":2880.2,"p":2.2},
{"g":2885.4,"p":1.83},{"g":2890.6,"p":2.2},{"g":2895.9,"p":1.92},{"g":2901.1,"p":2.11},{"g":2906.3,"p":1.74},{"g":2911.6,"p":2.02},{"g":2916.8,"p":1.79},{"g":2922,"p":2.02},{"g":2927.3,"p":1.74},{"g":2932.5,"p":1.92},{"g":2936.5,"p":1.83},{"g":2940.4,"p":4.09},{"g":2945.6,"p":4.46},{"g":2950.9,"p":3.99},{"g":2956.1,"p":4.56},{"g":2961.3,"p":4.09},{"g":2966.6,"p":4.27},{"g":2971.8,"p":3.71},{"g":2977,"p":4.18},{"g":2982.3,"p":3.99},{"g":2987.5,"p":4.27},{"g":2992.7,"p":3.99},{"g":2998,"p":4.18},{"g":3003.2,"p":3.9},{"g":3008.5,"p":4.09},{"g":3013.7,"p":3.9},{"g":3018.9,"p":3.99},{"g":3024.2,"p":3.8},{"g":3029.4,"p":4.09},{"g":3034.6,"p":4.37},
{"g":3037,"p":-1.5},{"g":3095,"p":-1.5}
]},
"mark": {"type": "line", "color": "#000", "strokeWidth": 1.8, "clip": true},
"encoding": {"x": {"field": "g", "type": "quantitative"}, "y": {"field": "p", "type": "quantitative"}}}
]},
{"layer": [
{"data": {"values": [{"r": 1}]},
"mark": {"type": "rule", "color": "#333", "strokeWidth": 2},
"encoding": {"y": {"field": "r", "type": "quantitative", "scale": {"domain": [-0.45, 5.235], "nice": false, "zero": false},
"axis": {"orient": "right", "values": [0,1,2,3,4,5], "title": "Ratio centered on most common", "grid": false, "domain": false, "tickSize": 8, "tickColor": "#333", "labelAngle": -90, "labelAlign": "center", "labelBaseline": "top", "labelPadding": 10, "labelFontSize": 16, "labelColor": "#000", "labelOverlap": false, "labelFlush": false, "titleFontSize": 16, "titleFontWeight": "normal", "titleColor": "#000", "titleAngle": -90, "titleX": 65, "titleY": 101, "titleAlign": "center", "titleBaseline": "middle"}}}}
]}
],
"resolve": {"scale": {"y": "independent"}}
}
